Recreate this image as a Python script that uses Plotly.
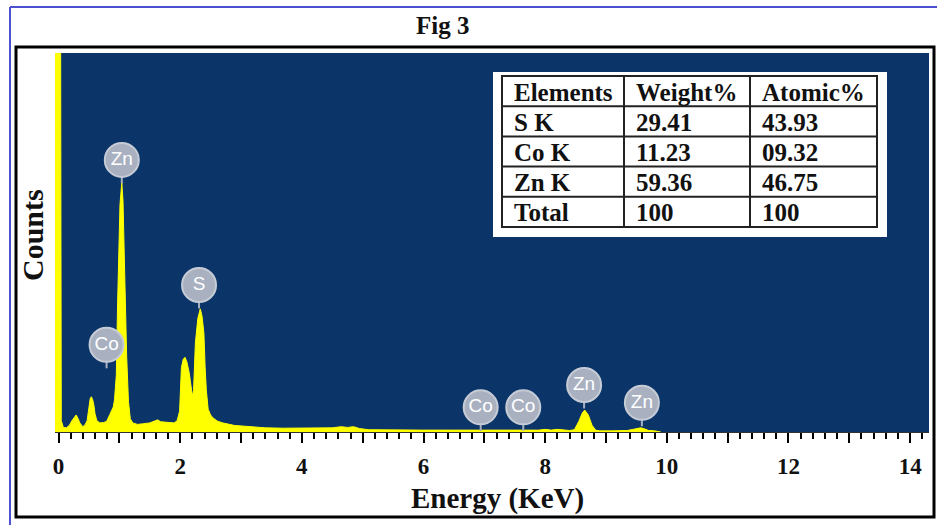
import plotly.graph_objects as go

# ---- EDS spectrum: energy (keV) and counts ----
energy_kev = [
    -0.06, 0.03, 0.045, 0.08, 0.13, 0.18, 0.22, 0.26, 0.29, 0.32, 0.35, 0.40,
    0.44, 0.47, 0.50, 0.52, 0.54, 0.56, 0.58, 0.60, 0.63, 0.68, 0.74, 0.79,
    0.84, 0.87, 0.90, 0.92, 0.95, 0.97, 0.99, 1.01, 1.04, 1.06, 1.08, 1.10,
    1.12, 1.15, 1.18, 1.22, 1.30, 1.40, 1.50, 1.58, 1.63, 1.68, 1.78, 1.90,
    1.95, 1.99, 2.02, 2.05, 2.08, 2.11, 2.15, 2.18, 2.20, 2.22, 2.25, 2.29,
    2.33, 2.36, 2.39, 2.41, 2.43, 2.46, 2.50, 2.54, 2.62, 2.70, 2.80, 2.90,
    3.00, 3.10, 3.20, 3.40, 3.70, 4.00, 4.30, 4.50, 4.65, 4.75, 4.85, 4.95,
    5.10, 5.50, 6.00, 6.50, 7.00, 7.50, 7.90, 8.00, 8.10, 8.20, 8.30, 8.40,
    8.48, 8.55, 8.61, 8.65, 8.71, 8.77, 8.83, 8.90, 9.10, 9.35, 9.45, 9.52,
    9.57, 9.62, 9.70, 9.80, 9.90,
]
counts = [
    1500, 1500, 30, 12, 11, 18, 30, 40, 45, 36, 24, 14,
    20, 30, 70, 88, 93, 86, 72, 48, 30, 24, 25, 28,
    45, 56, 66, 85, 150, 330, 480, 600, 658, 610, 470, 330,
    200, 80, 35, 24, 20, 22, 24, 29, 32, 27, 25, 24,
    30, 55, 170, 192, 197, 185, 155, 115, 95, 110, 235, 300,
    325, 305, 260, 170, 110, 60, 45, 37, 28, 24, 20, 17,
    16, 15, 13, 11, 10, 10, 10, 11, 14, 12, 14, 9,
    6, 5, 5, 5, 5, 4, 5, 7, 5, 7, 5, 4,
    6, 27, 50, 58, 45, 18, 5, 3, 3, 4, 7, 10,
    11, 9, 4, 3, 0,
]

# ---- element line markers ----
marker_labels = ["Zn", "Co", "S", "Co", "Co", "Zn", "Zn"]
marker_energy = [1.04, 0.79, 2.31, 6.94, 7.64, 8.64, 9.59]
marker_counts = [718, 230, 388, 65, 65, 124, 77]

# ---- quantification table ----
table_header = ["Elements", "Weight%", "Atomic%"]
table_elements = ["S K", "Co K", "Zn K", "Total"]
weight_pct = ["29.41", "11.23", "59.36", "100"]
atomic_pct = ["43.93", "09.32", "46.75", "100"]

# ---- axis ticks ----
x_tick_values = list(range(0, 15))
x_tick_labels = [f"<b>{v}</b>" if v % 2 == 0 else "" for v in x_tick_values]

# ---- page geometry (pixels) ----
W, H = 937, 525
PL, PR, PT, PB = 55, 929, 53, 432
SERIF = "Liberation Serif, Times New Roman, serif"
BG_BLUE = "#0b3468"
YELLOW = "#ffff00"
LABEL_GREY = "#a9b1c1"


def fx(px):
    return (px - PL) / (PR - PL)


def fy(py):
    return (PB - py) / (PB - PT)


fig = go.Figure()

fig.add_trace(go.Scatter(
    x=energy_kev, y=counts, mode="lines",
    fill="tozeroy", fillcolor=YELLOW,
    line=dict(color=YELLOW, width=1),
    hoverinfo="skip", showlegend=False,
))

# stems under the element markers
stem_x, stem_y = [], []
for e, c in zip(marker_energy, marker_counts):
    stem_x += [e, e, None]
    stem_y += [c, c - 62, None]
fig.add_trace(go.Scatter(
    x=stem_x, y=stem_y, mode="lines",
    line=dict(color=LABEL_GREY, width=2),
    hoverinfo="skip", showlegend=False,
))

fig.add_trace(go.Scatter(
    x=marker_energy, y=marker_counts, mode="markers+text",
    text=marker_labels, textposition="middle center",
    textfont=dict(family="Liberation Sans, Arial, sans-serif", size=19, color="white"),
    marker=dict(size=34, color=LABEL_GREY, line=dict(color="#c6ccd6", width=2)),
    cliponaxis=False, hoverinfo="skip", showlegend=False,
))

shapes = []
# outer blue page border
shapes.append(dict(type="line", xref="paper", yref="paper",
                   x0=fx(10), x1=fx(945), y0=fy(7), y1=fy(7),
                   line=dict(color="#4d50cf", width=2), layer="above"))
shapes.append(dict(type="line", xref="paper", yref="paper",
                   x0=fx(10), x1=fx(10), y0=fy(7), y1=fy(535),
                   line=dict(color="#4d50cf", width=2), layer="above"))
# black figure frame
shapes.append(dict(type="rect", xref="paper", yref="paper",
                   x0=fx(16), x1=fx(934), y0=fy(517), y1=fy(47),
                   line=dict(color="black", width=3), layer="above"))

# table box and grid
tab_left, tab_right, tab_top, tab_bottom = 502, 877, 76, 227
col_edges = [tab_left, 624, 750, tab_right]
n_rows = len(table_elements) + 1
row_h = (tab_bottom - tab_top) / n_rows
shapes.append(dict(type="rect", xref="paper", yref="paper",
                   x0=fx(493), x1=fx(887), y0=fy(237), y1=fy(72),
                   fillcolor="white", line=dict(width=0), layer="above"))
shapes.append(dict(type="rect", xref="paper", yref="paper",
                   x0=fx(tab_left), x1=fx(tab_right), y0=fy(tab_bottom), y1=fy(tab_top),
                   line=dict(color="#222222", width=2), layer="above"))
for cx in col_edges[1:-1]:
    shapes.append(dict(type="line", xref="paper", yref="paper",
                       x0=fx(cx), x1=fx(cx), y0=fy(tab_bottom), y1=fy(tab_top),
                       line=dict(color="#222222", width=2), layer="above"))
for r in range(1, n_rows):
    yy = tab_top + r * row_h
    shapes.append(dict(type="line", xref="paper", yref="paper",
                       x0=fx(tab_left), x1=fx(tab_right), y0=fy(yy), y1=fy(yy),
                       line=dict(color="#222222", width=2), layer="above"))

annotations = []
rows = [table_header] + [list(t) for t in zip(table_elements, weight_pct, atomic_pct)]
for r, row in enumerate(rows):
    yc = tab_top + (r + 0.5) * row_h + 1
    for c, txt in enumerate(row):
        annotations.append(dict(
            xref="paper", yref="paper", x=fx(col_edges[c] + 10), y=fy(yc),
            xanchor="left", yanchor="middle", showarrow=False,
            text=f"<b>{txt}</b>",
            font=dict(family=SERIF, size=25, color="#111111"),
        ))

annotations.append(dict(xref="paper", yref="paper", x=fx(442), y=fy(25),
                        xanchor="center", yanchor="middle", showarrow=False,
                        text="<b>Fig 3</b>", font=dict(family=SERIF, size=25, color="#111111")))
annotations.append(dict(xref="paper", yref="paper", x=fx(497), y=fy(498),
                        xanchor="center", yanchor="middle", showarrow=False,
                        text="<b>Energy (KeV)</b>", font=dict(family=SERIF, size=29, color="#111111")))
annotations.append(dict(xref="paper", yref="paper", x=fx(32), y=fy(235),
                        xanchor="center", yanchor="middle", showarrow=False, textangle=-90,
                        text="<b>Counts</b>", font=dict(family=SERIF, size=30, color="#111111")))

fig.update_layout(
    width=W, height=H,
    margin=dict(l=PL, r=W - PR, t=PT, b=H - PB, pad=0),
    paper_bgcolor="white", plot_bgcolor=BG_BLUE,
    shapes=shapes, annotations=annotations,
    xaxis=dict(
        range=[-0.058, 14.31], showgrid=False,
        zeroline=True, zerolinecolor="#77772a", zerolinewidth=1.5,
        tickmode="array", tickvals=x_tick_values, ticktext=x_tick_labels,
        ticks="outside", ticklen=10, tickwidth=2, tickcolor="black",
        ticklabelstandoff=3,
        tickfont=dict(family=SERIF, size=23, color="#111111"),
        showline=True, linecolor="#333333", linewidth=1,
        minor=dict(dtick=0.2, tick0=0, ticks="outside", ticklen=6, tickwidth=1.5,
                   tickcolor="black", showgrid=False),
        fixedrange=True,
    ),
    yaxis=dict(range=[0, 1000], showgrid=False, zeroline=False,
               showticklabels=False, ticks="", showline=False, fixedrange=True),
    showlegend=False,
)

fig.write_html("out.html")
